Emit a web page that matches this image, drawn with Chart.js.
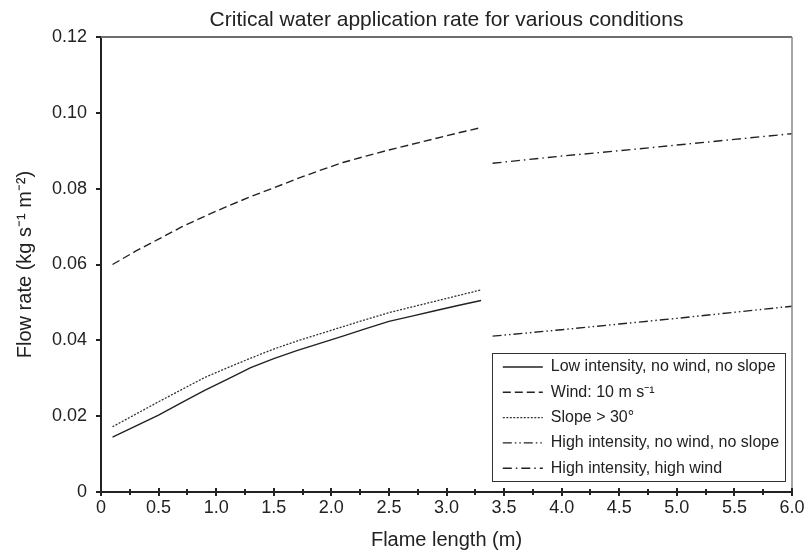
<!DOCTYPE html>
<html>
<head>
<meta charset="utf-8">
<script src="https://cdn.jsdelivr.net/npm/chart.js@4.4.1/dist/chart.umd.min.js"></script>
<style>
  html, body { margin: 0; padding: 0; background: #fff; }
</style>
</head>
<body>
<canvas id="myChart" width="808" height="558"></canvas>
<script>
// flame length (m) for the low intensity curves and the high intensity curves
const lowX = [0.1, 0.3, 0.5, 0.7, 0.9, 1.1, 1.3, 1.5, 1.7, 1.9, 2.1, 2.3, 2.5, 2.7, 2.9, 3.1, 3.3];
const highX = [3.4, 4.0, 4.5, 5.0, 5.5, 6.0];

// flow rate (kg s-1 m-2)
const lowNoWind = [0.0145, 0.0174, 0.0203, 0.0236, 0.0268, 0.0298, 0.0328, 0.0352, 0.0373, 0.0392, 0.0411, 0.0431, 0.0450, 0.0464, 0.0478, 0.0492, 0.0505];
const wind10 = [0.0600, 0.0635, 0.0667, 0.0699, 0.0727, 0.0754, 0.0779, 0.0802, 0.0826, 0.0848, 0.0869, 0.0886, 0.0902, 0.0917, 0.0932, 0.0947, 0.0961];
const slope30 = [0.0172, 0.0205, 0.0238, 0.0270, 0.0302, 0.0328, 0.0353, 0.0377, 0.0398, 0.0417, 0.0436, 0.0455, 0.0473, 0.0488, 0.0503, 0.0518, 0.0533];
const highNoWind = [0.0411, 0.0428, 0.0443, 0.0458, 0.0474, 0.0490];
const highWind = [0.0867, 0.0886, 0.0900, 0.0915, 0.0930, 0.0945];

const seriesNames = [
    'Low intensity, no wind, no slope',
    'Wind: 10 m s\u207B\u00B9',
    'Slope > 30\u00B0',
    'High intensity, no wind, no slope',
    'High intensity, high wind'
];

const xTickLabels = ['0', '0.5', '1.0', '1.5', '2.0', '2.5', '3.0', '3.5', '4.0', '4.5', '5.0', '5.5', '6.0'];
const yTickLabels = ['0', '0.02', '0.04', '0.06', '0.08', '0.10', '0.12'];

const ink = '#222';
const font = "'Liberation Sans', Arial, Helvetica, sans-serif";

function pairs(xs, ys) {
    return xs.map((x, i) => ({x: x, y: ys[i]}));
}

// legend frame, plot frame and the crossing ticks on the x axis
const extras = {
    id: 'extras',
    beforeDraw(chart) {
        const ca = chart.chartArea;
        const lg = chart.legend;
        const bx = ca.right - 300;
        const by = ca.bottom - 139;
        lg.left = bx + 1.5;
        lg.top = by - 3.3;
        lg.right = lg.left + lg.width;
        lg.bottom = lg.top + lg.height;
    },
    afterDraw(chart) {
        const ctx = chart.ctx;
        const ca = chart.chartArea;
        const xs = chart.scales.x;
        ctx.save();
        ctx.setLineDash([]);

        // top and right frame
        ctx.strokeStyle = '#6e6e6e';
        ctx.lineWidth = 2;
        ctx.beginPath();
        ctx.moveTo(ca.left, ca.top);
        ctx.lineTo(ca.right, ca.top);
        ctx.stroke();
        ctx.lineWidth = 1.5;
        ctx.strokeStyle = '#888';
        ctx.beginPath();
        ctx.moveTo(ca.right, ca.top);
        ctx.lineTo(ca.right, ca.bottom);
        ctx.stroke();

        // x ticks every 0.25, the 0.5 ones cross the axis
        ctx.strokeStyle = ink;
        ctx.lineWidth = 2;
        for (let v = 0; v <= 6.001; v += 0.25) {
            const px = Math.round(xs.getPixelForValue(v));
            const major = Math.abs(v * 2 - Math.round(v * 2)) < 0.01;
            ctx.beginPath();
            if (major) {
                ctx.moveTo(px, ca.bottom - 4);
                ctx.lineTo(px, ca.bottom);
            } else {
                ctx.moveTo(px, ca.bottom - 3);
                ctx.lineTo(px, ca.bottom + 3);
            }
            ctx.stroke();
        }

        // legend box
        ctx.strokeStyle = '#333';
        ctx.lineWidth = 1;
        ctx.strokeRect(ca.right - 299.5, ca.bottom - 138.5, 293, 128);
        ctx.restore();
    }
};

const baseLine = {
    borderColor: ink,
    backgroundColor: ink,
    borderWidth: 1.4,
    pointRadius: 0,
    pointHoverRadius: 0,
    tension: 0,
    fill: false
};

const ctx = document.getElementById('myChart').getContext('2d');
const myChart = new Chart(ctx, {
    type: 'line',
    data: {
        datasets: [
            Object.assign({}, baseLine, {label: seriesNames[0], data: pairs(lowX, lowNoWind), borderDash: []}),
            Object.assign({}, baseLine, {label: seriesNames[1], data: pairs(lowX, wind10), borderDash: [8, 4]}),
            Object.assign({}, baseLine, {label: seriesNames[2], data: pairs(lowX, slope30), borderDash: [2, 1.5], borderColor: '#333', borderWidth: 1.3}),
            Object.assign({}, baseLine, {label: seriesNames[3], data: pairs(highX, highNoWind), borderDash: [9, 3, 1.5, 3, 1.5, 3]}),
            Object.assign({}, baseLine, {label: seriesNames[4], data: pairs(highX, highWind), borderDash: [9, 4, 1.5, 4]})
        ]
    },
    options: {
        responsive: false,
        animation: false,
        devicePixelRatio: 1,
        layout: {
            padding: {left: 0, right: 16, top: 0, bottom: 0}
        },
        plugins: {
            title: {
                display: true,
                text: 'Critical water application rate for various conditions',
                color: ink,
                fullSize: false,
                font: {family: font, size: 21, weight: 'normal'},
                padding: {top: 8, bottom: 3.8}
            },
            legend: {
                display: true,
                position: 'chartArea',
                align: 'start',
                labels: {
                    color: ink,
                    font: {family: font, size: 16},
                    usePointStyle: true,
                    pointStyle: 'line',
                    pointStyleWidth: 40,
                    padding: 9.3,
                    generateLabels: (chart) => {
                        const items = Chart.defaults.plugins.legend.labels.generateLabels(chart);
                        items.forEach((item) => {
                            const ds = chart.data.datasets[item.datasetIndex];
                            item.lineDash = ds.borderDash;
                            item.lineWidth = ds.borderWidth;
                            item.strokeStyle = ds.borderColor;
                        });
                        return items;
                    }
                }
            },
            tooltip: {enabled: false}
        },
        scales: {
            x: {
                type: 'linear',
                min: 0,
                max: 6,
                afterFit: (s) => { s.height = 66; },
                ticks: {
                    stepSize: 0.5,
                    color: ink,
                    padding: 1,
                    maxRotation: 0,
                    font: {family: font, size: 18},
                    callback: (v) => xTickLabels[Math.round(v / 0.5)]
                },
                grid: {
                    display: true,
                    drawOnChartArea: false,
                    drawTicks: true,
                    tickLength: 4,
                    color: ink,
                    lineWidth: 2
                },
                border: {display: true, color: ink, width: 2},
                title: {
                    display: true,
                    text: 'Flame length (m)',
                    color: ink,
                    font: {family: font, size: 20},
                    padding: {top: 0, bottom: 6}
                }
            },
            y: {
                type: 'linear',
                min: 0,
                max: 0.12,
                afterFit: (s) => { s.width = 101; },
                ticks: {
                    stepSize: 0.02,
                    color: ink,
                    padding: 9,
                    font: {family: font, size: 18},
                    callback: (v) => yTickLabels[Math.round(v / 0.02)]
                },
                grid: {
                    display: true,
                    drawOnChartArea: false,
                    drawTicks: true,
                    tickLength: 5,
                    color: ink,
                    lineWidth: 2
                },
                border: {display: true, color: ink, width: 2},
                title: {
                    display: true,
                    text: 'Flow rate (kg s\u207B\u00B9 m\u207B\u00B2)',
                    color: ink,
                    font: {family: font, size: 20},
                    padding: {top: 13, bottom: 0}
                }
            }
        }
    },
    plugins: [extras]
});
</script>
</body>
</html>
